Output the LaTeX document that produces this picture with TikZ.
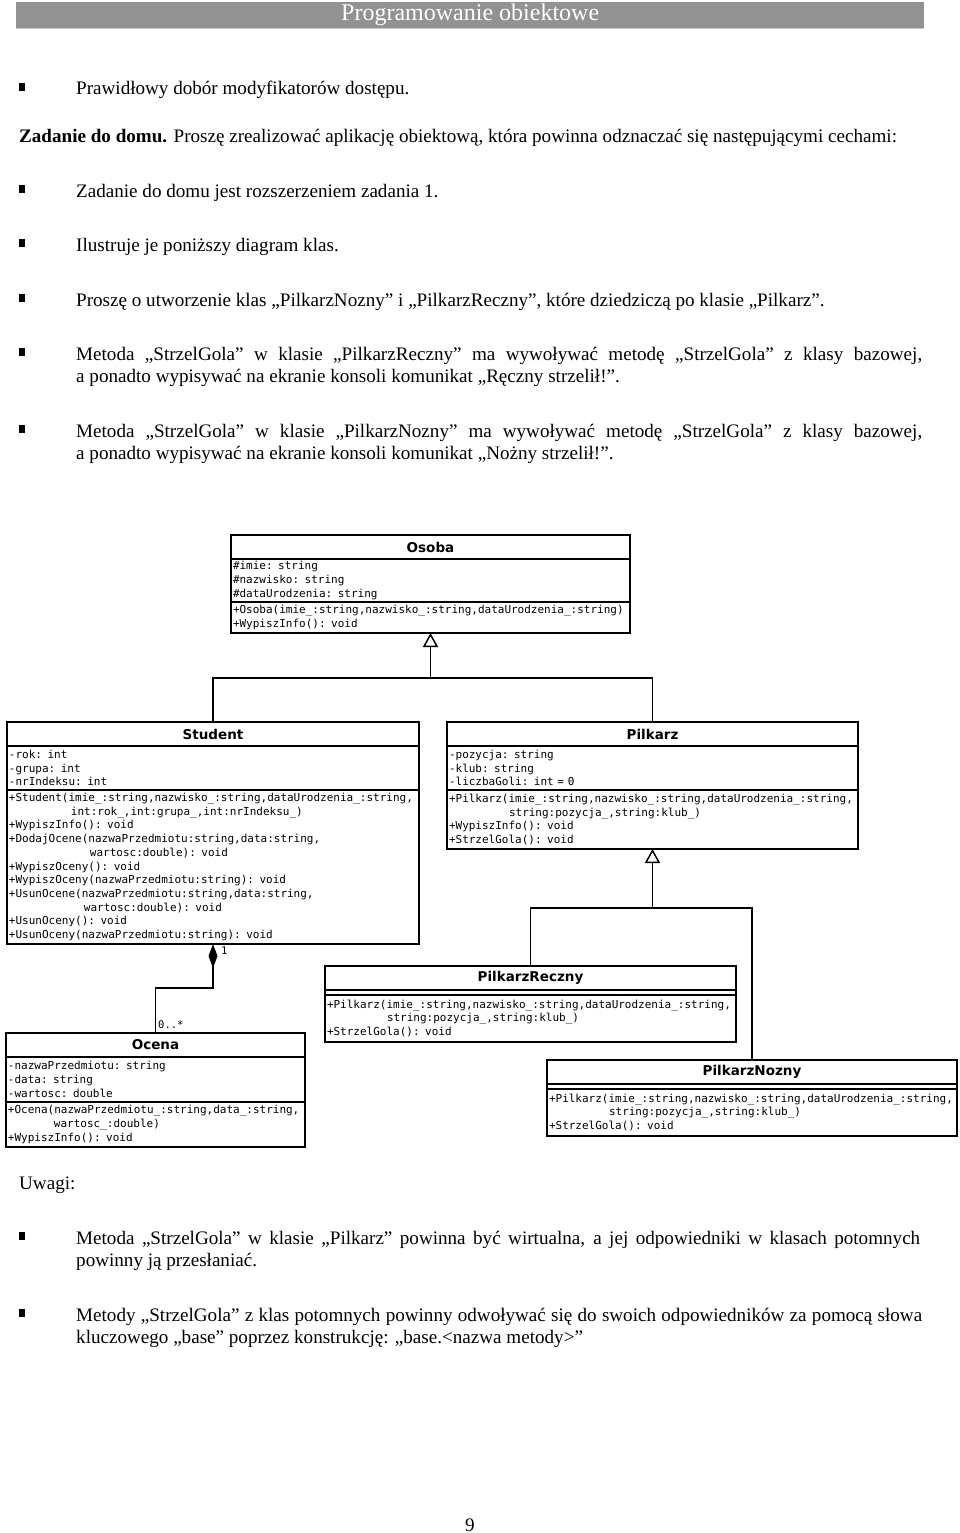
\documentclass[tikz,border=0pt]{standalone}
\usepackage{fontspec}
\setmainfont{Liberation Serif}
\newfontfamily\umlmono{DejaVu Sans Mono}
\newfontfamily\umlsans{DejaVu Sans}
\usetikzlibrary{arrows.meta,positioning}
\definecolor{headgray}{RGB}{146,146,146}

\tikzset{
  txt/.style={inner sep=0pt, anchor=base west, font=\fontsize{19.1}{23}\selectfont},
  bullet/.style={fill=black, inner sep=0pt, minimum width=6pt, minimum height=8pt},
  umltitle/.style={draw, line width=1.5pt, inner sep=0pt, outer sep=0pt, minimum height=24pt,
    font=\umlsans\bfseries\fontsize{13.5}{15}\selectfont},
  umlpart/.style={draw, line width=1.5pt, inner xsep=2pt, inner ysep=0pt, outer sep=0pt,
    align=left, font=\umlmono\fontsize{11}{13.7}\selectfont},
  umlnote/.style={inner sep=1pt, font=\umlmono\fontsize{10.5}{12}\selectfont},
  inherit/.style={line width=1.5pt, -{Triangle[open, length=14pt, width=15pt, line width=1.5pt]}},
  compose/.style={line width=1.5pt, {Diamond[length=24pt, width=9pt]}-},
}

\begin{document}
\begin{tikzpicture}[x=1pt, y=-1pt]
 \useasboundingbox (0,0) rectangle (960,1533);

 % page header
 \node[fill=headgray, text=white, minimum width=908pt, minimum height=26pt, inner sep=0pt,
   anchor=north west, font=\fontsize{24}{26}\selectfont] (head) at (16,2) {Programowanie obiektowe};
 \draw[gray!40] (head.south west) -- (head.south east);

 % bullets of the lists
 \foreach \yb [count=\i] in {89,191,245,300,354,431,1238,1315} {
  \node[bullet] (dot\i) at (22,\yb-2) {};
 }

 % text before the diagram
 \node[txt] (b1) at (76,95) {Prawidłowy dobór modyfikatorów dostępu.};
 \node[txt] (task) at (19,143) {\textbf{Zadanie do domu.} Proszę zrealizować aplikację obiektową, która powinna odznaczać się następującymi cechami:};
 \node[txt] (b2) at (76,197) {Zadanie do domu jest rozszerzeniem zadania 1.};
 \node[txt] (b3) at (76,251) {Ilustruje je poniższy diagram klas.};
 \node[txt] (b4) at (76,306) {Proszę o utworzenie klas „PilkarzNozny” i „PilkarzReczny”, które dziedziczą po klasie „Pilkarz”.};
 \node[txt] (b5) at (76,360) {\makebox[846pt][s]{Metoda „StrzelGola” w klasie „PilkarzReczny” ma wywoływać metodę „StrzelGola” z klasy bazowej,}};
 \node[txt] (b5b) at (76,382) {a ponadto wypisywać na ekranie konsoli komunikat „Ręczny strzelił!”.};
 \node[txt] (b6) at (76,437) {\makebox[846pt][s]{Metoda „StrzelGola” w klasie „PilkarzNozny” ma wywoływać metodę „StrzelGola” z klasy bazowej,}};
 \node[txt] (b6b) at (76,459) {a ponadto wypisywać na ekranie konsoli komunikat „Nożny strzelił!”.};

 % define a class box with 8 arguments
 \newcommand{\UmlClass}[8]{
  % {name}{top left}{width}{title}{attributes}{attr height}{methods}{meth height}
  \pgfmathsetmacro{\umltw}{#3-4}
  \node[umltitle, minimum width=#3pt, anchor=north west] (#1) at #2 {#4};
  \node[umlpart, text width=\umltw pt, minimum height=#6pt, anchor=north] (#1-a) at (#1.south) {#5};
  \node[umlpart, text width=\umltw pt, minimum height=#8pt, anchor=north] (#1-m) at (#1-a.south) {#7};
 }

 \UmlClass{osoba}{(231,535)}{399}{Osoba}
  {\#imie: string\\\#nazwisko: string\\\#dataUrodzenia: string}{43}
  {+Osoba(imie\_:string,nazwisko\_:string,dataUrodzenia\_:string)\\+WypiszInfo(): void}{31}
 \UmlClass{student}{(7,722)}{412}{Student}
  {-rok: int\\-grupa: int\\-nrIndeksu: int}{44}
  {+Student(imie\_:string,nazwisko\_:string,dataUrodzenia\_:string,\\
   \hspace*{62pt}int:rok\_,int:grupa\_,int:nrIndeksu\_)\\
   +WypiszInfo(): void\\
   +DodajOcene(nazwaPrzedmiotu:string,data:string,\\
   \hspace*{81pt}wartosc:double): void\\
   +WypiszOceny(): void\\
   +WypiszOceny(nazwaPrzedmiotu:string): void\\
   +UsunOcene(nazwaPrzedmiotu:string,data:string,\\
   \hspace*{75pt}wartosc:double): void\\
   +UsunOceny(): void\\
   +UsunOceny(nazwaPrzedmiotu:string): void}{154}
 \UmlClass{pilkarz}{(447,722)}{411}{Pilkarz}
  {-pozycja: string\\-klub: string\\-liczbaGoli: int = 0}{44}
  {+Pilkarz(imie\_:string,nazwisko\_:string,dataUrodzenia\_:string,\\
   \hspace*{60pt}string:pozycja\_,string:klub\_)\\
   +WypiszInfo(): void\\+StrzelGola(): void}{59}
 \UmlClass{ocena}{(6,1033)}{299}{Ocena}
  {-nazwaPrzedmiotu: string\\-data: string\\-wartosc: double}{45}
  {+Ocena(nazwaPrzedmiotu\_:string,data\_:string,\\
   \hspace*{46pt}wartosc\_:double)\\+WypiszInfo(): void}{45}
 \UmlClass{reczny}{(325,966)}{411}{PilkarzReczny}{}{5}
  {+Pilkarz(imie\_:string,nazwisko\_:string,dataUrodzenia\_:string,\\
   \hspace*{60pt}string:pozycja\_,string:klub\_)\\+StrzelGola(): void}{47}
 \UmlClass{nozny}{(547,1060)}{410}{PilkarzNozny}{}{5}
  {+Pilkarz(imie\_:string,nazwisko\_:string,dataUrodzenia\_:string,\\
   \hspace*{60pt}string:pozycja\_,string:klub\_)\\+StrzelGola(): void}{47}

 % inheritance and composition
 \coordinate (hub1) at (osoba.south |- 0,678);
 \coordinate (hub2) at (pilkarz.south |- 0,908);
 \draw[line width=1.5pt] (student.north) |- (pilkarz.north |- hub1) -- (pilkarz.north);
 \draw[inherit] (hub1) -- (osoba-m.south);
 \draw[line width=1.5pt] (reczny.north) |- (nozny.north |- hub2) -- (nozny.north);
 \draw[inherit] (hub2) -- (pilkarz-m.south);
 \draw[compose] (student-m.south) -- ++(0,44) -| (ocena.north);
 \node[umlnote, anchor=west] (one) at (220,951) {1};
 \node[umlnote, anchor=west] (many) at (157,1025) {0..*};

 % remarks
 \node[txt] (notes) at (19,1189) {Uwagi:};
 \node[txt] (u1) at (76,1244) {\makebox[844pt][s]{Metoda „StrzelGola” w klasie „Pilkarz” powinna być wirtualna, a jej odpowiedniki w klasach potomnych}};
 \node[txt] (u1b) at (76,1266) {powinny ją przesłaniać.};
 \node[txt] (u2) at (76,1321) {\makebox[846pt][s]{Metody „StrzelGola” z klas potomnych powinny odwoływać się do swoich odpowiedników za pomocą słowa}};
 \node[txt] (u2b) at (76,1343) {kluczowego „base” poprzez konstrukcję: „base.\textless nazwa metody\textgreater”};

 % page number
 \node[txt, anchor=base] (page) at (470,1531) {9};
\end{tikzpicture}
\end{document}
